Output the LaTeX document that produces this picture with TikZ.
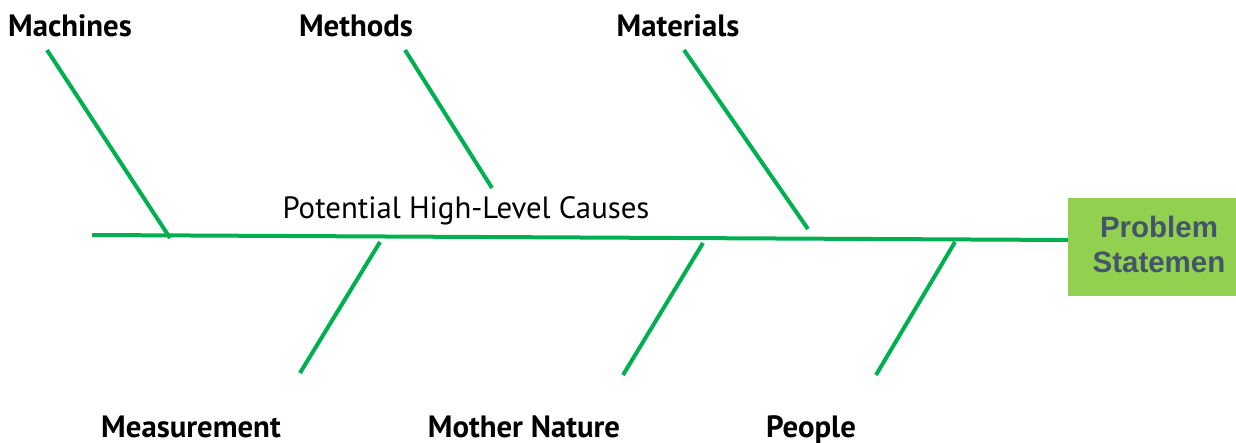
\documentclass[tikz,border=0pt]{standalone}
\usepackage{fontspec}
\setmainfont{PT Sans}
\newfontfamily\boxfont{Liberation Sans}
\definecolor{bone}{HTML}{00B050}
\definecolor{boxfill}{HTML}{92D050}
\definecolor{boxtext}{HTML}{44546A}
\begin{document}
\begin{tikzpicture}[x=1pt,y=-1pt,
  bone/.style={draw=bone,line width=4pt},
  cat/.style={font=\bfseries\fontsize{30.8}{36}\selectfont,inner sep=0pt,anchor=base},
  probbox/.style={fill=boxfill,minimum width=168pt,minimum height=98pt,inner sep=0pt},
  probtext/.style={font=\boxfont\bfseries\fontsize{29.5}{35}\selectfont,text=boxtext,align=center,inner sep=0pt}]
\useasboundingbox (0,0) rectangle (1236,443);
% spine
\coordinate (tail) at (92,235);
\node[probbox] (prob) at (1152,247) {};
\node[probtext] (probtxt) at (1159,244) {Problem\\Statemen};
\draw[bone] (tail) -- ([yshift=7pt]prob.west);
% labels
\node[cat] (mach) at (70,37) {Machines};
\node[cat] (meth) at (356,37) {Methods};
\node[cat] (mat) at (678,37) {Materials};
\node[cat] (meas) at (191,437) {Measurement};
\node[cat] (moth) at (524,437) {Mother Nature};
\node[cat] (peop) at (811,437) {People};
\node[font=\fontsize{30.8}{36}\selectfont,inner sep=0pt,anchor=base] (pot) at (466,219) {Potential High-Level Causes};
% bone endpoints
\coordinate (a1) at (47,50);  \coordinate (a2) at (170,238);
\coordinate (b1) at (405,50); \coordinate (b2) at (492,188);
\coordinate (c1) at (684,50); \coordinate (c2) at (808,229);
\coordinate (d1) at (380,242); \coordinate (d2) at (300,373);
\coordinate (e1) at (703,243); \coordinate (e2) at (623,375);
\coordinate (f1) at (955,242); \coordinate (f2) at (876,375);
\draw[bone] (a1) -- (a2);
\draw[bone] (b1) -- (b2);
\draw[bone] (c1) -- (c2);
\draw[bone] (d1) -- (d2);
\draw[bone] (e1) -- (e2);
\draw[bone] (f1) -- (f2);
\end{tikzpicture}
\end{document}
